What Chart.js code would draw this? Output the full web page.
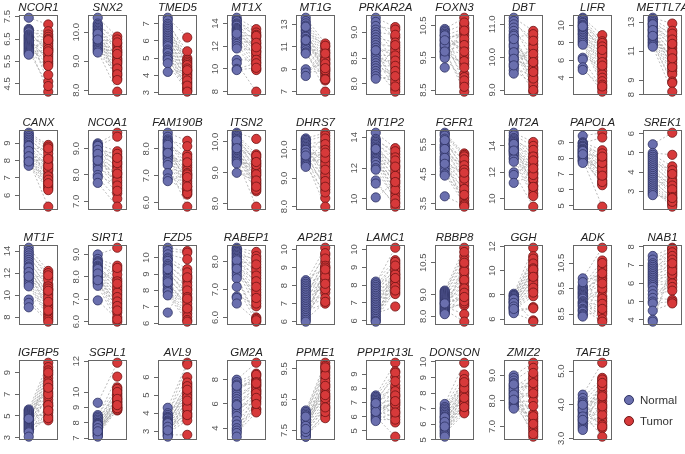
<!DOCTYPE html>
<html>
<head>
<meta charset="utf-8">
<script src="https://cdn.jsdelivr.net/npm/chart.js@4.4.0/dist/chart.umd.min.js"></script>
<style>
  body { margin: 0; background: #fff; width: 685px; height: 454px; position: relative; overflow: hidden;
         font-family: "Liberation Sans", Arial, sans-serif; }
  .panel { position: absolute; }
  .key { position: absolute; font-size: 11.5px; color: #333; line-height: 12px; }
  .dot { display: inline-block; width: 8px; height: 8px; border-radius: 50%; border: 1px solid; vertical-align: -1px; margin-right: 6px; }
</style>
</head>
<body>
<div id="grid"></div>
<div class="key" style="left:624px;top:394px"><span class="dot" style="background:#6a6fae;border-color:#2f3263"></span>Normal</div>
<div class="key" style="left:624px;top:415px"><span class="dot" style="background:#d7393a;border-color:#6e1515"></span>Tumor</div>
<script>
// --- Data ---
const geneNames = [
  "NCOR1", "SNX2", "TMED5", "MT1X", "MT1G", "PRKAR2A", "FOXN3", "DBT", "LIFR", "METTL7A",
  "CANX", "NCOA1", "FAM190B", "ITSN2", "DHRS7", "MT1P2", "FGFR1", "MT2A", "PAPOLA", "SREK1",
  "MT1F", "SIRT1", "FZD5", "RABEP1", "AP2B1", "LAMC1", "RBBP8", "GGH", "ADK", "NAB1",
  "IGFBP5", "SGPL1", "AVL9", "GM2A", "PPME1", "PPP1R13L", "DONSON", "ZMIZ2", "TAF1B"
];

const tickLabels = [
  ["4.5", "5.5", "6.5", "7.5"], ["8.0", "9.0", "10.0"], ["3", "4", "5", "6", "7"], ["8", "10", "12", "14"],
  ["7", "9", "11", "13"], ["8.0", "8.5", "9.0"], ["8.5", "9.5", "10.5"], ["9.0", "10.0", "11.0"],
  ["4", "6", "8", "10"], ["8", "9", "11", "13"],
  ["6", "7", "8", "9"], ["7.0", "8.0", "9.0"], ["6.0", "7.0", "8.0"], ["8.0", "9.0", "10.0"],
  ["8.0", "9.0", "10.0"], ["10", "12", "14"], ["3.5", "4.5", "5.5"], ["10", "12", "14"],
  ["5", "6", "7", "8", "9"], ["3", "4", "5", "6"],
  ["8", "10", "12", "14"], ["6.0", "7.0", "8.0", "9.0"], ["6", "7", "8", "9", "10"], ["6.0", "7.0", "8.0"],
  ["6", "7", "8", "9", "10"], ["6", "7", "8", "9", "10"], ["8.0", "9.0", "10.5"], ["6", "8", "10", "12"],
  ["8.5", "9.5", "10.5"], ["4", "5", "6", "7", "8"],
  ["3", "5", "7", "9"], ["7", "8", "9", "10", "12"], ["3", "4", "5", "6"], ["4", "6", "8"],
  ["7.5", "8.5", "9.5"], ["5", "6", "7", "8", "9"], ["5", "6", "7", "8", "9", "10"], ["7.0", "8.0", "9.0"],
  ["3.0", "4.0", "5.0"]
];

const normalValues = [
  [7.45, 6.95, 6.9, 6.85, 6.8, 6.7, 6.65, 6.6, 6.55, 6.5, 6.45, 6.4, 6.35, 6.3, 6.25, 6.2, 6.15, 6.1, 6.05, 6.0, 5.95, 5.9, 5.85, 5.8],
  [10.5, 10.3, 10.25, 10.2, 10.15, 10.1, 10.05, 10.0, 9.95, 9.9, 9.85, 9.8, 9.75, 9.7, 9.65, 9.6, 9.55, 9.5, 9.45, 9.4, 9.35, 9.3, 9.95, 9.75],
  [7.35, 7.2, 7.0, 6.9, 6.8, 6.7, 6.6, 6.5, 6.4, 6.3, 6.2, 6.1, 6.0, 5.9, 5.8, 5.7, 5.5, 5.4, 5.3, 5.1, 5.0, 4.9, 4.7, 4.2],
  [14.5, 14.3, 14.2, 14.0, 13.9, 13.8, 13.6, 13.5, 13.4, 13.3, 13.2, 13.0, 12.9, 12.7, 12.6, 12.4, 12.2, 12.0, 11.8, 10.8, 10.5, 10.0, 9.9, 13.1],
  [13.6, 13.3, 13.1, 12.9, 12.7, 12.5, 12.4, 12.2, 12.0, 11.9, 11.7, 11.5, 11.4, 11.2, 11.0, 10.9, 10.7, 10.5, 10.4, 9.0, 8.7, 8.4, 12.8, 11.6],
  [9.28, 9.2, 9.12, 9.05, 9.0, 8.95, 8.9, 8.85, 8.8, 8.75, 8.7, 8.65, 8.6, 8.55, 8.5, 8.45, 8.4, 8.35, 8.3, 8.25, 8.2, 8.15, 8.1, 8.65],
  [10.4, 10.35, 10.3, 10.25, 10.2, 10.15, 10.1, 10.05, 10.0, 9.95, 9.9, 9.85, 9.8, 9.75, 9.7, 9.65, 9.6, 9.55, 9.5, 9.2, 10.2, 9.9, 9.7, 10.05],
  [11.2, 11.1, 11.0, 10.9, 10.8, 10.7, 10.6, 10.5, 10.4, 10.3, 10.2, 10.1, 10.0, 9.9, 9.8, 9.7, 9.6, 9.5, 10.65, 10.35, 10.15, 9.95, 10.55, 9.75],
  [10.9, 10.8, 10.6, 10.4, 10.3, 10.1, 10.0, 9.8, 9.6, 9.5, 9.3, 9.1, 9.0, 8.8, 8.6, 8.4, 8.2, 8.0, 7.8, 6.3, 6.1, 5.2, 4.9, 9.9],
  [13.3, 13.2, 13.1, 13.0, 12.9, 12.8, 12.7, 12.6, 12.5, 12.4, 12.3, 12.2, 12.1, 12.0, 11.9, 11.8, 11.7, 11.6, 11.5, 11.4, 11.3, 12.85, 12.45, 12.05],
  [9.6, 9.5, 9.4, 9.3, 9.2, 9.1, 9.0, 8.9, 8.8, 8.7, 8.6, 8.5, 8.4, 8.3, 8.2, 8.1, 8.0, 7.9, 7.8, 7.7, 8.85, 8.55, 8.25, 7.95],
  [9.2, 9.15, 9.1, 9.05, 9.0, 8.95, 8.9, 8.85, 8.8, 8.75, 8.7, 8.65, 8.6, 8.5, 8.4, 8.3, 8.2, 8.0, 7.9, 7.7, 9.1, 8.95, 8.8, 8.55],
  [8.6, 8.45, 8.35, 8.3, 8.25, 8.2, 8.1, 8.05, 8.0, 7.95, 7.9, 7.85, 7.8, 7.75, 7.7, 7.65, 7.6, 7.5, 7.4, 7.1, 6.9, 6.8, 8.15, 7.85],
  [10.3, 10.25, 10.2, 10.15, 10.1, 10.05, 10.0, 9.95, 9.9, 9.85, 9.8, 9.75, 9.7, 9.65, 9.6, 9.55, 9.5, 9.45, 9.4, 9.35, 9.3, 9.0, 10.05, 9.8],
  [10.4, 10.35, 10.3, 10.25, 10.2, 10.15, 10.1, 10.05, 10.0, 9.95, 9.9, 9.85, 9.8, 9.75, 9.7, 9.65, 9.6, 9.55, 9.5, 9.45, 9.4, 10.0, 9.9, 9.8],
  [14.3, 13.9, 13.8, 13.7, 13.6, 13.5, 13.4, 13.3, 13.2, 13.1, 13.0, 12.9, 12.8, 12.7, 12.6, 12.5, 12.4, 12.2, 12.0, 11.9, 11.2, 11.0, 10.1, 13.25],
  [5.9, 5.85, 5.8, 5.7, 5.6, 5.5, 5.45, 5.4, 5.3, 5.2, 5.1, 5.0, 4.95, 4.9, 4.8, 4.7, 4.6, 4.5, 4.45, 3.75, 5.65, 5.35, 5.05, 4.85],
  [15.0, 14.8, 14.6, 14.5, 14.4, 14.3, 14.2, 14.1, 14.0, 13.9, 13.8, 13.7, 13.6, 13.5, 13.4, 13.3, 13.1, 13.0, 12.8, 12.0, 11.8, 11.2, 14.15, 13.65],
  [9.4, 9.0, 8.95, 8.9, 8.8, 8.75, 8.7, 8.6, 8.55, 8.5, 8.4, 8.35, 8.3, 8.2, 8.15, 8.1, 8.05, 8.0, 7.9, 7.85, 7.8, 7.7, 8.45, 8.25],
  [5.45, 5.0, 4.9, 4.8, 4.7, 4.6, 4.5, 4.4, 4.3, 4.2, 4.1, 4.0, 3.9, 3.8, 3.7, 3.6, 3.5, 3.4, 3.3, 3.2, 3.1, 3.0, 2.9, 2.8],
  [14.3, 14.0, 13.8, 13.6, 13.4, 13.2, 13.0, 12.8, 12.6, 12.4, 12.2, 12.0, 11.8, 11.6, 11.4, 11.2, 11.0, 10.8, 9.6, 9.3, 8.9, 12.5, 12.1, 11.7],
  [9.0, 8.8, 8.7, 8.65, 8.6, 8.5, 8.45, 8.4, 8.3, 8.25, 8.2, 8.1, 8.05, 8.0, 7.95, 7.9, 7.8, 7.75, 7.7, 7.6, 6.95, 8.35, 8.15, 7.85],
  [10.6, 10.4, 10.2, 10.0, 9.9, 9.8, 9.6, 9.5, 9.4, 9.2, 9.1, 9.0, 8.8, 8.7, 8.6, 8.4, 8.3, 8.1, 8.0, 7.9, 7.7, 6.65, 9.3, 8.5],
  [8.5, 8.45, 8.4, 8.35, 8.3, 8.25, 8.2, 8.15, 8.1, 8.0, 7.95, 7.9, 7.85, 7.8, 7.7, 7.6, 7.5, 7.4, 7.1, 6.75, 6.7, 6.5, 8.05, 7.75],
  [8.3, 8.2, 8.1, 8.0, 7.9, 7.8, 7.7, 7.6, 7.5, 7.4, 7.3, 7.2, 7.1, 7.0, 6.9, 6.8, 6.7, 6.6, 6.5, 6.4, 6.3, 6.2, 6.1, 6.0],
  [8.2, 8.1, 8.0, 7.9, 7.8, 7.7, 7.6, 7.5, 7.4, 7.3, 7.2, 7.1, 7.0, 6.9, 6.8, 6.7, 6.6, 6.5, 6.4, 6.3, 6.2, 6.1, 6.0, 5.95],
  [9.2, 9.15, 9.1, 9.05, 9.0, 8.95, 8.9, 8.85, 8.8, 8.75, 8.7, 8.65, 8.6, 8.55, 8.5, 8.45, 8.4, 8.35, 8.3, 8.25, 8.2, 8.15, 8.1, 8.6],
  [8.1, 8.0, 7.95, 7.9, 7.8, 7.7, 7.6, 7.5, 7.45, 7.4, 7.3, 7.2, 7.1, 7.0, 6.95, 6.9, 6.8, 6.7, 6.6, 6.5, 7.65, 7.35, 7.05, 6.85],
  [9.9, 9.6, 9.55, 9.5, 9.45, 9.4, 9.35, 9.3, 9.25, 9.2, 9.15, 9.1, 9.0, 8.95, 8.9, 8.85, 8.8, 8.7, 8.65, 8.6, 8.5, 8.45, 8.4, 9.75],
  [7.5, 7.3, 7.1, 7.0, 6.9, 6.8, 6.7, 6.6, 6.5, 6.4, 6.3, 6.2, 6.1, 6.0, 5.9, 5.8, 5.6, 5.4, 5.2, 5.0, 4.9, 4.5, 4.0, 3.9],
  [5.6, 5.5, 5.4, 5.3, 5.2, 5.1, 5.0, 4.9, 4.8, 4.7, 4.6, 4.5, 4.4, 4.3, 4.2, 4.1, 4.0, 3.9, 3.8, 3.7, 3.6, 3.5, 3.1, 4.75],
  [9.3, 8.5, 8.4, 8.3, 8.2, 8.1, 8.0, 7.95, 7.9, 7.8, 7.75, 7.7, 7.6, 7.55, 7.5, 7.4, 7.35, 7.3, 7.2, 7.15, 7.1, 7.85, 7.65, 7.45],
  [4.3, 4.0, 3.9, 3.8, 3.75, 3.7, 3.6, 3.55, 3.5, 3.4, 3.35, 3.3, 3.2, 3.15, 3.1, 3.0, 2.95, 2.9, 2.8, 2.75, 2.7, 3.45, 3.25, 3.05],
  [8.0, 7.8, 7.6, 7.4, 7.2, 7.0, 6.8, 6.6, 6.4, 6.2, 6.0, 5.8, 5.6, 5.4, 5.2, 5.0, 4.6, 4.3, 4.0, 3.8, 3.6, 3.3, 7.5, 5.9],
  [8.15, 8.1, 8.05, 8.0, 7.95, 7.9, 7.85, 7.8, 7.75, 7.7, 7.65, 7.6, 7.55, 7.5, 7.45, 7.4, 7.35, 7.3, 7.3, 7.85, 7.65, 7.45, 7.55, 7.95],
  [7.5, 7.4, 7.3, 7.2, 7.1, 7.0, 6.9, 6.85, 6.8, 6.7, 6.6, 6.5, 6.4, 6.3, 6.2, 6.1, 6.0, 5.9, 5.8, 5.7, 6.75, 6.55, 6.35, 6.95],
  [7.3, 7.1, 7.0, 6.9, 6.8, 6.7, 6.6, 6.5, 6.4, 6.3, 6.2, 6.1, 6.0, 5.9, 5.8, 5.7, 5.6, 5.5, 5.4, 5.3, 5.2, 6.45, 6.15, 5.85],
  [9.0, 8.9, 8.8, 8.7, 8.6, 8.55, 8.5, 8.4, 8.35, 8.3, 8.2, 8.15, 8.1, 8.0, 7.95, 7.9, 7.85, 7.8, 7.75, 7.7, 8.45, 8.25, 8.05, 8.65],
  [4.3, 4.2, 4.1, 4.05, 4.0, 3.95, 3.9, 3.85, 3.8, 3.75, 3.7, 3.65, 3.6, 3.55, 3.5, 3.45, 3.4, 3.35, 3.3, 3.25, 3.85, 3.65, 3.55, 4.0]
];

const tumorValues = [
  [7.15, 6.4, 6.85, 5.9, 6.7, 6.1, 4.6, 6.6, 5.5, 6.3, 4.9, 6.5, 5.7, 6.0, 6.2, 4.15, 5.8, 5.4, 6.45, 5.6, 4.4, 5.3, 6.05, 5.95],
  [9.85, 9.6, 9.75, 9.3, 9.5, 9.1, 9.4, 8.9, 9.2, 8.8, 9.0, 8.7, 9.65, 8.6, 9.05, 8.5, 8.95, 8.4, 8.75, 9.35, 7.95, 8.55, 8.35, 9.25],
  [6.2, 5.0, 5.4, 4.5, 4.9, 4.8, 4.3, 4.7, 3.8, 4.6, 4.0, 4.4, 3.6, 4.2, 3.5, 4.1, 3.3, 3.9, 3.2, 3.7, 3.1, 3.4, 3.05, 4.3],
  [13.5, 12.8, 13.2, 12.2, 13.0, 11.8, 12.5, 11.4, 12.0, 11.0, 11.6, 12.9, 10.6, 11.2, 10.3, 12.3, 10.0, 11.5, 9.9, 10.8, 8.0, 10.5, 10.1, 11.9],
  [11.3, 11.0, 10.7, 10.5, 10.2, 9.9, 11.1, 9.6, 9.4, 10.0, 9.2, 9.0, 8.8, 9.8, 8.6, 8.4, 7.0, 8.2, 8.0, 9.5, 8.9, 10.4, 8.1, 9.1],
  [9.1, 8.9, 9.05, 8.6, 8.95, 8.4, 8.8, 8.2, 8.7, 8.5, 8.0, 8.65, 8.3, 8.55, 7.9, 8.45, 8.1, 8.35, 7.85, 8.25, 8.75, 8.05, 8.15, 7.95],
  [10.75, 9.5, 10.55, 9.0, 10.4, 10.2, 8.7, 10.3, 9.8, 10.0, 8.9, 10.1, 9.6, 8.45, 9.9, 9.3, 10.45, 9.4, 8.8, 10.6, 9.7, 9.2, 8.6, 10.35],
  [10.8, 10.4, 10.6, 9.9, 10.2, 9.5, 10.7, 9.7, 9.3, 10.0, 9.1, 9.8, 9.6, 8.95, 10.3, 9.4, 9.2, 10.5, 9.0, 9.65, 9.35, 10.1, 9.55, 9.85],
  [8.9, 8.2, 7.8, 7.4, 8.0, 6.8, 7.0, 6.4, 7.6, 6.0, 5.6, 6.6, 5.2, 4.8, 5.8, 4.4, 4.0, 3.6, 3.2, 5.4, 2.8, 2.4, 3.0, 7.2],
  [12.9, 12.4, 12.0, 11.6, 12.2, 11.2, 11.8, 10.8, 11.4, 10.4, 11.0, 10.0, 10.6, 9.8, 10.2, 9.6, 9.4, 8.9, 8.8, 10.9, 8.2, 11.5, 9.9, 10.5],
  [8.9, 8.8, 8.6, 8.2, 8.4, 7.8, 8.0, 7.6, 7.4, 8.7, 7.2, 7.0, 6.8, 7.5, 6.6, 6.5, 5.35, 6.4, 6.3, 7.1, 6.9, 7.7, 6.7, 8.1],
  [9.6, 8.9, 9.45, 8.7, 8.5, 8.8, 8.3, 8.6, 8.1, 8.4, 7.9, 8.2, 7.7, 8.0, 7.5, 7.8, 7.3, 7.6, 7.1, 6.8, 8.45, 7.4, 8.65, 8.05],
  [8.3, 7.8, 8.1, 7.4, 7.6, 7.3, 7.7, 7.0, 7.2, 6.8, 7.1, 6.6, 6.9, 6.5, 7.5, 6.4, 6.7, 6.3, 5.85, 6.45, 6.35, 7.05, 6.6, 6.95],
  [10.1, 9.6, 9.5, 9.3, 9.4, 9.1, 9.0, 9.2, 8.8, 8.9, 8.7, 9.55, 8.6, 8.5, 9.05, 8.4, 8.95, 7.9, 8.65, 9.25, 8.45, 8.75, 9.35, 8.55],
  [10.6, 9.4, 10.5, 9.0, 10.3, 8.8, 10.1, 9.6, 9.2, 10.4, 8.6, 9.8, 9.5, 8.3, 10.2, 9.1, 8.0, 9.7, 8.9, 10.0, 8.5, 9.3, 9.9, 8.7],
  [13.3, 12.9, 13.1, 12.4, 12.7, 12.0, 11.6, 12.2, 11.2, 11.8, 10.8, 11.4, 10.4, 11.0, 10.2, 10.6, 9.8, 12.5, 11.5, 10.0, 9.5, 9.7, 11.1, 12.1],
  [5.2, 5.15, 5.1, 4.9, 4.7, 5.0, 4.5, 4.6, 4.3, 4.8, 4.1, 4.4, 3.9, 4.2, 3.7, 4.0, 3.6, 3.5, 3.8, 3.45, 4.65, 4.35, 3.4, 4.55],
  [14.3, 14.0, 13.4, 13.1, 13.7, 12.8, 12.5, 13.2, 12.2, 11.9, 12.6, 11.6, 11.3, 12.0, 11.0, 10.7, 11.5, 10.4, 10.2, 9.4, 12.9, 11.8, 10.9, 12.3],
  [9.6, 8.5, 9.3, 8.2, 8.0, 7.8, 8.3, 7.6, 7.4, 7.9, 7.2, 7.0, 7.5, 6.8, 6.6, 7.1, 6.4, 6.3, 4.95, 7.3, 6.5, 7.7, 6.9, 8.1],
  [6.05, 4.9, 4.3, 4.0, 3.8, 3.6, 4.1, 3.4, 3.5, 3.2, 3.0, 3.3, 2.9, 2.8, 3.1, 2.6, 2.7, 2.5, 2.4, 2.3, 2.2, 3.9, 2.45, 2.65],
  [12.2, 11.6, 12.0, 11.0, 11.4, 10.5, 10.8, 10.0, 10.2, 9.6, 9.8, 9.2, 9.0, 11.8, 8.8, 8.4, 8.2, 8.0, 7.8, 7.6, 10.6, 9.4, 8.6, 10.4],
  [9.3, 8.5, 8.3, 7.9, 8.1, 7.6, 7.4, 7.8, 7.2, 7.5, 7.0, 7.3, 6.8, 7.1, 6.6, 6.9, 6.4, 6.2, 6.7, 6.0, 6.1, 7.7, 6.5, 8.4],
  [10.4, 10.3, 9.9, 9.3, 8.9, 9.1, 8.5, 8.7, 8.1, 8.3, 7.8, 8.0, 7.4, 7.6, 7.0, 7.2, 6.8, 6.6, 6.4, 6.2, 6.1, 8.8, 7.5, 6.9],
  [8.35, 8.2, 8.0, 7.8, 7.6, 8.1, 7.4, 7.7, 7.2, 7.5, 7.0, 6.8, 7.3, 6.6, 6.4, 6.9, 6.0, 5.95, 5.85, 6.5, 7.1, 5.9, 7.9, 6.7],
  [9.0, 10.1, 8.6, 9.7, 8.2, 9.8, 8.8, 7.8, 9.3, 8.4, 9.5, 8.0, 9.1, 7.6, 8.7, 7.3, 8.3, 7.0, 8.5, 7.8, 9.0, 8.1, 7.1, 8.9],
  [9.4, 10.1, 9.2, 8.8, 8.6, 9.3, 8.4, 9.0, 8.2, 8.7, 8.0, 8.5, 7.8, 8.3, 7.6, 8.9, 7.5, 8.1, 6.8, 7.9, 8.6, 7.7, 8.4, 9.1],
  [11.2, 10.8, 11.0, 10.4, 10.6, 10.0, 10.2, 9.6, 9.8, 9.2, 9.4, 8.8, 9.0, 8.5, 10.1, 8.1, 9.7, 8.6, 7.75, 9.3, 8.7, 10.5, 9.1, 8.9],
  [11.9, 11.2, 10.8, 11.0, 10.4, 10.6, 10.0, 10.2, 9.6, 9.8, 9.2, 9.4, 8.8, 9.0, 8.4, 8.6, 7.9, 7.0, 6.9, 5.9, 5.8, 10.1, 9.5, 8.2],
  [11.1, 10.6, 10.2, 10.4, 9.9, 10.0, 9.6, 9.8, 9.4, 9.2, 10.3, 9.0, 8.8, 9.5, 8.6, 8.5, 8.3, 8.2, 9.1, 8.9, 10.5, 9.7, 8.7, 10.1],
  [7.95, 7.8, 7.6, 7.9, 7.4, 7.2, 7.7, 7.0, 6.8, 7.5, 6.6, 6.4, 7.3, 6.2, 6.0, 6.9, 5.8, 5.6, 5.1, 6.5, 5.0, 4.9, 6.7, 7.1],
  [9.9, 7.5, 9.5, 6.2, 9.2, 5.0, 8.8, 7.8, 8.5, 6.5, 8.2, 5.6, 7.2, 9.0, 6.8, 4.6, 5.9, 8.0, 5.3, 7.0, 4.8, 6.0, 5.5, 7.6],
  [11.9, 10.3, 11.0, 9.8, 10.1, 9.5, 10.2, 9.3, 9.9, 9.1, 9.6, 8.9, 9.4, 9.0, 8.8, 9.7, 9.2, 9.0, 8.85, 10.0, 9.35, 9.55, 8.95, 9.15],
  [6.8, 6.0, 6.7, 5.6, 5.4, 5.7, 5.0, 5.2, 4.8, 4.6, 5.5, 4.4, 4.2, 5.1, 4.0, 3.8, 4.5, 3.6, 2.8, 4.9, 4.3, 5.3, 3.9, 4.7],
  [9.4, 8.5, 8.3, 8.0, 7.9, 8.4, 7.6, 7.4, 7.8, 7.2, 7.0, 7.5, 6.8, 6.6, 7.1, 6.4, 6.2, 5.6, 5.5, 6.9, 5.3, 6.5, 7.7, 6.0],
  [9.7, 9.6, 9.4, 9.5, 9.2, 9.0, 8.9, 9.1, 8.8, 8.6, 8.7, 8.5, 8.3, 8.4, 8.2, 8.0, 7.9, 8.1, 9.3, 8.55, 8.95, 8.25, 9.55, 8.65],
  [9.8, 9.2, 8.0, 8.8, 7.6, 9.1, 7.2, 8.2, 6.8, 7.4, 6.4, 7.8, 6.0, 7.0, 5.6, 6.6, 4.6, 6.2, 5.8, 7.5, 8.5, 6.9, 7.1, 6.3],
  [9.95, 9.2, 8.8, 8.6, 8.4, 8.9, 8.2, 8.0, 8.5, 7.8, 7.6, 8.1, 7.4, 7.2, 7.9, 7.0, 6.8, 7.5, 6.7, 7.3, 8.3, 7.7, 7.1, 8.7],
  [9.5, 7.2, 9.3, 8.4, 6.9, 9.0, 8.6, 7.0, 8.8, 7.5, 8.2, 6.6, 8.9, 7.3, 8.0, 6.8, 8.5, 7.8, 7.4, 9.1, 6.7, 8.3, 7.1, 8.7],
  [5.25, 4.8, 3.3, 4.7, 4.1, 3.6, 4.6, 3.9, 4.5, 3.05, 4.4, 3.5, 4.2, 3.8, 4.3, 3.4, 4.75, 3.7, 4.0, 4.55, 3.35, 4.65, 3.95, 4.25]
];

// --- Layout ---
const SIDE = 20;     // room left (tick labels) and right of each box
const BOX_W = 39;
const TITLE_FONT = { family: "'Liberation Sans', Arial, sans-serif", style: "italic", weight: "normal", size: 11.5 };
const TICK_FONT = { family: "'Liberation Sans', Arial, sans-serif", size: 9.5 };
const TICK_LEN = 4;
const LABEL_OFFSET = 11.5; // label centre, px left of the box

const measureCtx = document.createElement("canvas").getContext("2d");
measureCtx.font = `${TICK_FONT.size}px ${TICK_FONT.family}`;

// box round each panel, drawn over the points like R's box()
const boxPlugin = {
  id: "box",
  afterDatasetsDraw(chart) {
    const a = chart.chartArea;
    const ctx = chart.ctx;
    ctx.save();
    ctx.strokeStyle = "#666";
    ctx.lineWidth = 1;
    ctx.strokeRect(Math.round(a.left) + 0.5, Math.round(a.top) + 0.5,
      Math.round(a.right - a.left) - 1, Math.round(a.bottom - a.top) - 1);
    ctx.restore();
  }
};

function renderPanel(i) {
  const col = i % 10;
  const row = Math.floor(i / 10);
  const normal = normalValues[i];
  const tumor = tumorValues[i];
  const labels = tickLabels[i];
  const tickVals = labels.map(Number);

  const all = normal.concat(tumor);
  const lo = Math.min(...all);
  const hi = Math.max(...all);
  const ext = (hi - lo) * 0.04;

  const widest = Math.max(...labels.map(l => measureCtx.measureText(l).width));

  const wrap = document.createElement("div");
  wrap.className = "panel";
  wrap.style.left = Math.round(19 + col * 69.3 - SIDE) + "px";
  wrap.style.top = (row * 115 + 1) + "px";
  const canvas = document.createElement("canvas");
  canvas.width = SIDE * 2 + BOX_W;
  canvas.height = 99;
  wrap.appendChild(canvas);
  document.getElementById("grid").appendChild(wrap);

  // pair lines: normal -> tumor, broken by null points
  const pairs = [];
  normal.forEach((v, k) => {
    pairs.push({ x: 1, y: v }, { x: 2, y: tumor[k] }, { x: 1.5, y: null });
  });

  new Chart(canvas, {
    type: "scatter",
    data: {
      datasets: [
        {
          data: pairs,
          showLine: true,
          spanGaps: false,
          borderColor: "#a9a9a9",
          borderWidth: 0.8,
          borderDash: [2, 2],
          pointRadius: 0,
          order: 3
        },
        {
          data: normal.map(v => ({ x: 1, y: v })),
          pointRadius: 4.6,
          backgroundColor: "#6a6fae",
          borderColor: "#2f3263",
          borderWidth: 0.8,
          clip: false,
          order: 2
        },
        {
          data: tumor.map(v => ({ x: 2, y: v })),
          pointRadius: 4.6,
          backgroundColor: "#d7393a",
          borderColor: "#6e1515",
          borderWidth: 0.8,
          clip: false,
          order: 1
        }
      ]
    },
    options: {
      responsive: false,
      devicePixelRatio: 1,
      animation: false,
      events: [],
      layout: { padding: 0 },
      plugins: {
        legend: { display: false },
        tooltip: { enabled: false },
        title: {
          display: true,
          text: geneNames[i],
          color: "#222",
          font: TITLE_FONT,
          padding: { top: 0, bottom: 0 }
        }
      },
      scales: {
        x: { type: "linear", min: 0.5, max: 2.5, display: false },
        y: {
          min: lo - ext,
          max: hi + ext,
          afterBuildTicks: s => { s.ticks = tickVals.map(v => ({ value: v })); },
          afterFit: s => { s.width = SIDE; s.paddingTop = 0; s.paddingBottom = 0; },
          border: { display: false },
          grid: { drawOnChartArea: false, drawTicks: true, tickLength: TICK_LEN, color: "#666" },
          ticks: {
            minRotation: 90,
            maxRotation: 90,
            crossAlign: "center",
            padding: LABEL_OFFSET - TICK_LEN - widest / 2,
            color: "#555",
            font: TICK_FONT,
            callback: v => labels[tickVals.indexOf(v)]
          }
        },
        // empty right-hand axis, so the box (and title) sit centred in the canvas
        yRight: {
          position: "right",
          display: true,
          border: { display: false },
          grid: { display: false },
          ticks: { display: false },
          afterFit: s => { s.width = SIDE; s.paddingTop = 0; s.paddingBottom = 0; }
        }
      }
    },
    plugins: [boxPlugin]
  });
}

// --- Init ---
geneNames.forEach((g, i) => renderPanel(i));
</script>
</body>
</html>
